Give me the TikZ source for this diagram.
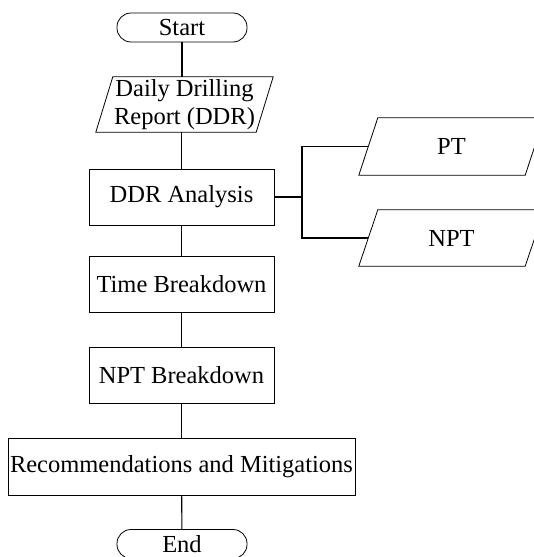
\documentclass[tikz,border=0pt]{standalone}
\usepackage{fontspec}
\setmainfont{Liberation Serif}
\usetikzlibrary{calc}
\begin{document}
\begin{tikzpicture}[x=1pt,y=-1pt,
  every node/.style={font=\fontsize{24.5}{28}\selectfont, inner sep=0pt},
  line/.style={line width=1.1pt, black},
  procbox/.style={draw, line width=0.8pt, rectangle, minimum width=185pt, minimum height=56pt},
  termbox/.style={draw, line width=0.8pt, rectangle, rounded corners=14pt, minimum width=130pt, minimum height=29pt},
  iobox/.style={rectangle, align=center}
]
\useasboundingbox (0,0) rectangle (533,557);
% nodes
\node[termbox] (start) at (182,27.5) {Start};
\node[iobox, minimum width=160pt, minimum height=55pt] (ddr) at (184.5,104.5) {Daily Drilling\\Report (DDR)};
\node[procbox] (ana) at (181.5,197) {DDR Analysis};
\node[procbox] (time) at (181.5,284) {Time Breakdown};
\node[procbox] (nptb) at (181.5,375) {NPT Breakdown};
\node[procbox, minimum width=347pt, minimum height=57pt] (rec) at (181.5,466.5) {Recommendations and Mitigations};
\node[termbox] (end) at (182,544) {End};
\node[iobox, minimum width=166pt, minimum height=57pt] (pt) at (451.5,146.5) {PT};
\node[iobox, minimum width=166pt, minimum height=56pt] (npt) at (451.5,238) {NPT};
% parallelogram outlines
\foreach \n/\s in {ddr/8.5, pt/9.5, npt/9.5}{
  \draw[line width=0.8pt] ([xshift=\s pt]\n.north west) -- ([xshift=\s pt]\n.north east)
    -- ([xshift=-\s pt]\n.south east) -- ([xshift=-\s pt]\n.south west) -- cycle;
}
% connectors
\draw[line] (start) -- (start |- ddr.north);
\draw[line] (ddr.south -| ana.north) -- (ana);
\draw[line] (ana) -- (time);
\draw[line] (time) -- (nptb);
\draw[line] (nptb) -- (rec);
\draw[line] (rec) -- (end);
\coordinate (j) at (302,197);
\draw[line] (ana.east) -- (j);
\draw[line] (j) |- (pt.west);
\draw[line] (j) |- (npt.west);
\end{tikzpicture}
\end{document}
